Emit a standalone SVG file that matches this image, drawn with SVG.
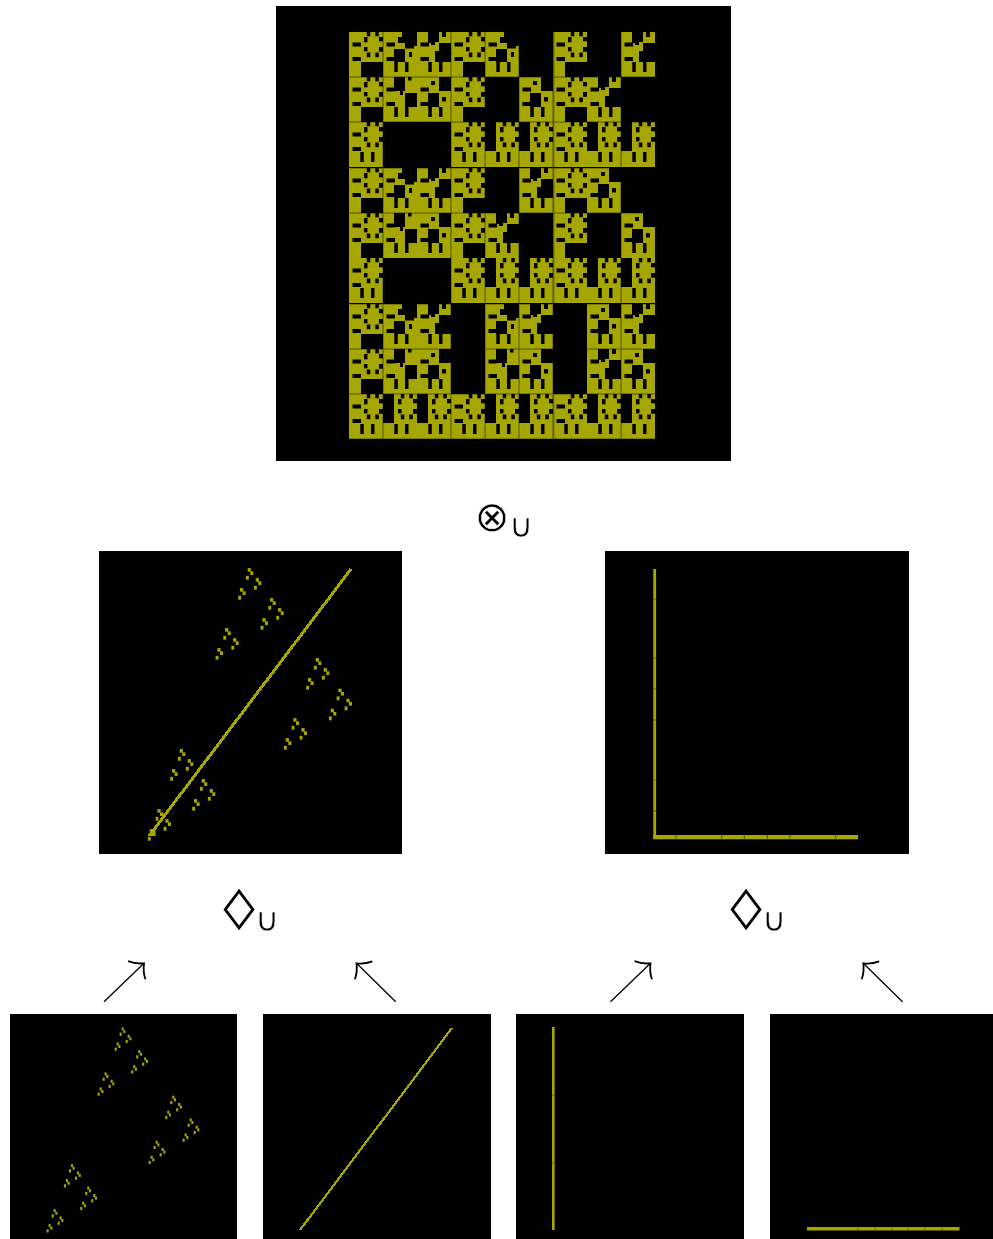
<svg xmlns="http://www.w3.org/2000/svg" width="993" height="1239" viewBox="0 0 993 1239">
<style>
.bg{fill:#000}
.y{fill:#a6a600;stroke:none}
.k{fill:#000;stroke:none}
.p{fill:#a6a600;stroke:none}
.seam{fill:none;stroke:#808080;stroke-width:1;mix-blend-mode:multiply}
.op{font-family:"DejaVu Sans",sans-serif;fill:#000;text-anchor:middle;stroke:#fff;stroke-width:.5}
.arrow{fill:none;stroke:#000;stroke-width:1.3}
.head{fill:none;stroke:#000;stroke-width:1.8}
.px{shape-rendering:crispEdges;stroke:#a6a600}
</style>
<defs>
<marker id="hook" markerUnits="userSpaceOnUse" markerWidth="32" markerHeight="32" refX="0" refY="0" viewBox="-16 -16 32 32" orient="auto" overflow="visible">
<path class="head" d="M-10,-12.5Q-6.500,-5 0,0Q-6.500,5 -10,12.5"/>
</marker>
<g id="gear">
<rect class="k" x="17.800" y="0" width="3.500" height="4.300"/><rect class="k" x="26.300" y="0" width="3.500" height="4.300"/>
<rect class="k" x="15" y="5" width="3.500" height="5.300"/><rect class="k" x="30" y="5" width="4" height="4.300"/>
<rect class="k" x="15" y="15" width="3.500" height="4.300"/><rect class="k" x="30" y="15" width="4" height="4.800"/>
<rect class="k" x="17.800" y="20.500" width="3.500" height="4.700"/><rect class="k" x="26.300" y="20.500" width="3.500" height="4.700"/>
</g>
<g id="slots"><rect class="k" x="3.500" y="10.500" width="8.500" height="4"/><rect class="k" x="3.500" y="25" width="8.500" height="4"/></g>
<g id="slits"><rect class="k" x="11.300" y="30" width="3.500" height="10"/><rect class="k" x="22" y="30" width="3.500" height="10"/></g>
<g id="P"><path class="y" d="M0 0H34V30H12V45H0Z"/><use href="#gear"/><use href="#slots"/></g>
<g id="B"><rect class="y" width="34" height="45"/><use href="#gear"/><use href="#slots"/><use href="#slits"/></g>
<g id="D"><rect class="y" width="34" height="45"/><rect class="k" x="0" y="0" width="11" height="29"/><use href="#gear"/><use href="#slits"/></g>
<g id="CLa"><rect class="y" width="34" height="45"/>
<rect class="k" x="15" y="5" width="4" height="6"/>
<polygon class="k" points="19,0 34,0 34,14 31,14 31,16.500 22,16.500 22,11 19,11"/>
<rect class="k" x="26" y="20" width="3" height="5"/>
<rect class="k" x="11" y="17" width="11" height="13"/>
<use href="#slots"/>
<use href="#slits"/></g>
<g id="CRa"><rect class="y" width="34" height="45"/>
<rect class="k" x="25" y="0" width="4" height="5"/>
<polygon class="k" points="11,0 22,0 22,10 18,10 18,13 14,13 14,11 11,11"/>
<polygon class="k" points="22,11 34,11 34,30 18,30 18,19 22,19"/>
<use href="#slots"/>
<use href="#slits"/></g>
<g id="CLb"><rect class="y" width="34" height="45"/>
<polygon class="k" points="11,0 22,0 22,14 20,14 20,18 17,18 17,14 11,14"/>
<rect class="k" x="25" y="0" width="3.500" height="3.500"/>
<rect class="k" x="22" y="16" width="12" height="14"/>
<use href="#slots"/><use href="#slits"/></g>
<g id="CRb"><rect class="y" width="34" height="45"/>
<rect class="k" x="14" y="4" width="4" height="4"/>
<rect class="k" x="25" y="20" width="4" height="4.500"/>
<rect class="k" x="11" y="16" width="11" height="14"/>
<rect class="k" x="22" y="0" width="12" height="14"/>
<use href="#slots"/><use href="#slits"/></g>
<g id="d1"><rect class="p" x="-1.600" y="-2.600" width="3.200" height="3.600"/><rect class="p" x="1" y="0.600" width="3" height="3.700"/><rect class="p" x="-3.400" y="5.100" width="2.900" height="3.900"/></g>
<g id="c1"><use href="#d1"/><use href="#d1" x="8" y="10"/><use href="#d1" x="-7.700" y="20"/></g>
<g id="d2"><rect class="p" x="-1.100" y="-2.600" width="2.100" height="3"/><rect class="p" x=".6" y="0" width="2.100" height="3"/><rect class="p" x="-3.100" y="2.600" width="2.100" height="3.200"/></g>
<g id="c2"><use href="#d2"/><use href="#d2" x="6" y="7.300"/><use href="#d2" x="-5" y="15"/></g>
</defs>
<rect width="993" height="1239" fill="#fff"/>
<g id="panel-product">
<rect class="bg" x="276" y="6" width="455" height="455"/>
<use href="#P" x="349" y="32"/><use href="#CLa" x="383" y="32"/><use href="#CRa" x="417" y="32"/><use href="#P" x="451" y="32"/><use href="#CLa" x="485" y="32"/><use href="#P" x="553" y="32"/><use href="#CRa" x="621" y="32"/>
<use href="#P" x="349" y="77"/><use href="#CLb" x="383" y="77"/><use href="#CRb" x="417" y="77"/><use href="#P" x="451" y="77"/><use href="#CRb" x="519" y="77"/><use href="#P" x="553" y="77"/><use href="#CRa" x="587" y="77"/>
<use href="#B" x="349" y="122"/><use href="#B" x="451" y="122"/><use href="#D" x="485" y="122"/><use href="#D" x="519" y="122"/><use href="#B" x="553" y="122"/><use href="#D" x="587" y="122"/><use href="#D" x="621" y="122"/>
<use href="#P" x="349" y="168"/><use href="#CLa" x="383" y="168"/><use href="#CRa" x="417" y="168"/><use href="#P" x="451" y="168"/><use href="#CRa" x="519" y="168"/><use href="#P" x="553" y="168"/><use href="#CRb" x="587" y="168"/>
<use href="#P" x="349" y="213"/><use href="#CLb" x="383" y="213"/><use href="#CRb" x="417" y="213"/><use href="#P" x="451" y="213"/><use href="#CRa" x="485" y="213"/><use href="#P" x="553" y="213"/><use href="#CRb" x="621" y="213"/>
<use href="#B" x="349" y="258"/><use href="#B" x="451" y="258"/><use href="#D" x="485" y="258"/><use href="#D" x="519" y="258"/><use href="#B" x="553" y="258"/><use href="#D" x="587" y="258"/><use href="#D" x="621" y="258"/>
<use href="#P" x="349" y="304"/><use href="#CLa" x="383" y="304"/><use href="#CRa" x="417" y="304"/><use href="#CLa" x="485" y="304"/><use href="#CRa" x="519" y="304"/><use href="#CRb" x="587" y="304"/><use href="#CRa" x="621" y="304"/>
<use href="#P" x="349" y="349"/><use href="#CLb" x="383" y="349"/><use href="#CRb" x="417" y="349"/><use href="#CLb" x="485" y="349"/><use href="#CRb" x="519" y="349"/><use href="#CRa" x="587" y="349"/><use href="#CRb" x="621" y="349"/>
<use href="#B" x="349" y="394"/><use href="#D" x="383" y="394"/><use href="#D" x="417" y="394"/><use href="#B" x="451" y="394"/><use href="#D" x="485" y="394"/><use href="#D" x="519" y="394"/><use href="#B" x="553" y="394"/><use href="#D" x="587" y="394"/><use href="#D" x="621" y="394"/>
<path class="seam" d="M383 32V439M451 32V439M485 32V439M519 32V439M553 32V439M553.800 32V439M621 32V439M349 77H655M349 122H655M349 168H655M349 213H655M349 304H655M349 349H655M349 394H655M349 439H655"/>
</g>
<g id="op-tensor">
<text class="op" x="492" y="531" font-size="42">⊗</text>
<text class="op" x="521" y="537" font-size="33">∪</text>
</g>
<g id="panel-left">
<rect class="bg" x="99" y="551" width="303" height="303"/>
<line class="px" x1="149" y1="836" x2="351" y2="569" stroke-width="3"/>
<rect class="p" x="150" y="829.500" width="5.500" height="6.500"/>
<use href="#c1" x="249.300" y="570.700"/><use href="#c1" x="271.700" y="600.700"/><use href="#c1" x="226.700" y="630.700"/><use href="#c1" x="317.300" y="660.700"/><use href="#c1" x="340" y="691.300"/><use href="#c1" x="295" y="720.700"/><use href="#c1" x="181.300" y="751.700"/><use href="#c1" x="203.300" y="781.700"/><use href="#c1" x="159" y="811.700"/>
</g>
<g id="panel-right">
<rect class="bg" x="605" y="551" width="304" height="303"/>
<rect class="p" x="653.300" y="569" width="2.800" height="270"/>
<rect class="p" x="653.300" y="835" width="204.700" height="4.300"/>
<path d="M676 835v4.300M721.700 835v4.300M744.300 835v4.300M767.300 835v4.300M790 835v4.300M835.700 835v4.300" stroke="#4a4a00" stroke-width="1" fill="none"/>
<path d="M653.300 599h2.800M653.300 658h2.800M653.300 689h2.800M653.300 720h2.800M653.300 780h2.800M653.300 811h2.800" stroke="#5a5a00" stroke-width=".8" fill="none"/>
</g>
<g id="op-diamond-left">
<text class="op" transform="translate(239 921) scale(1.6 1)" style="stroke:none" font-size="40">◊</text>
<text class="op" x="267" y="931" font-size="33">∪</text>
</g>
<g id="op-diamond-right">
<text class="op" transform="translate(746 921) scale(1.6 1)" style="stroke:none" font-size="40">◊</text>
<text class="op" x="774" y="931" font-size="33">∪</text>
</g>
<g id="connectors">
<line class="arrow" x1="104" y1="1001.700" x2="144" y2="963.300" marker-end="url(#hook)"/>
<line class="arrow" x1="395.700" y1="1001.700" x2="356.500" y2="963.300" marker-end="url(#hook)"/>
<line class="arrow" x1="610.500" y1="1001.700" x2="650.500" y2="963.300" marker-end="url(#hook)"/>
<line class="arrow" x1="902.500" y1="1001.700" x2="863.300" y2="963.300" marker-end="url(#hook)"/>
</g>
<g id="panel-a">
<rect class="bg" x="10" y="1014" width="227" height="225"/>
<use href="#c2" x="122.700" y="1030"/><use href="#c2" x="139.300" y="1052.700"/><use href="#c2" x="105.700" y="1075"/><use href="#c2" x="173.300" y="1098.300"/><use href="#c2" x="190.700" y="1121"/><use href="#c2" x="156.700" y="1143.300"/><use href="#c2" x="72" y="1166.700"/><use href="#c2" x="88.300" y="1189.300"/><use href="#c2" x="54.700" y="1211.700"/>
</g>
<g id="panel-b">
<rect class="bg" x="263" y="1014" width="228" height="225"/>
<line class="px" x1="300" y1="1230" x2="452" y2="1028" stroke-width="2.200"/>
</g>
<g id="panel-c">
<rect class="bg" x="516" y="1014" width="228" height="225"/>
<rect class="p" x="552" y="1027" width="2.600" height="203"/>
<path d="M552 1095h2.600M552 1163h2.600" stroke="#5a5a00" stroke-width=".8" fill="none"/>
</g>
<g id="panel-d">
<rect class="bg" x="770" y="1014" width="223" height="225"/>
<rect class="p" x="807" y="1227" width="152.500" height="3.500"/>
<path d="M858 1227v3.500M875 1227v3.500M892 1227v3.500M908 1227v3.500M925 1227v3.500M942 1227v3.500" stroke="#5a5a00" stroke-width=".8" fill="none"/>
</g>
</svg>
